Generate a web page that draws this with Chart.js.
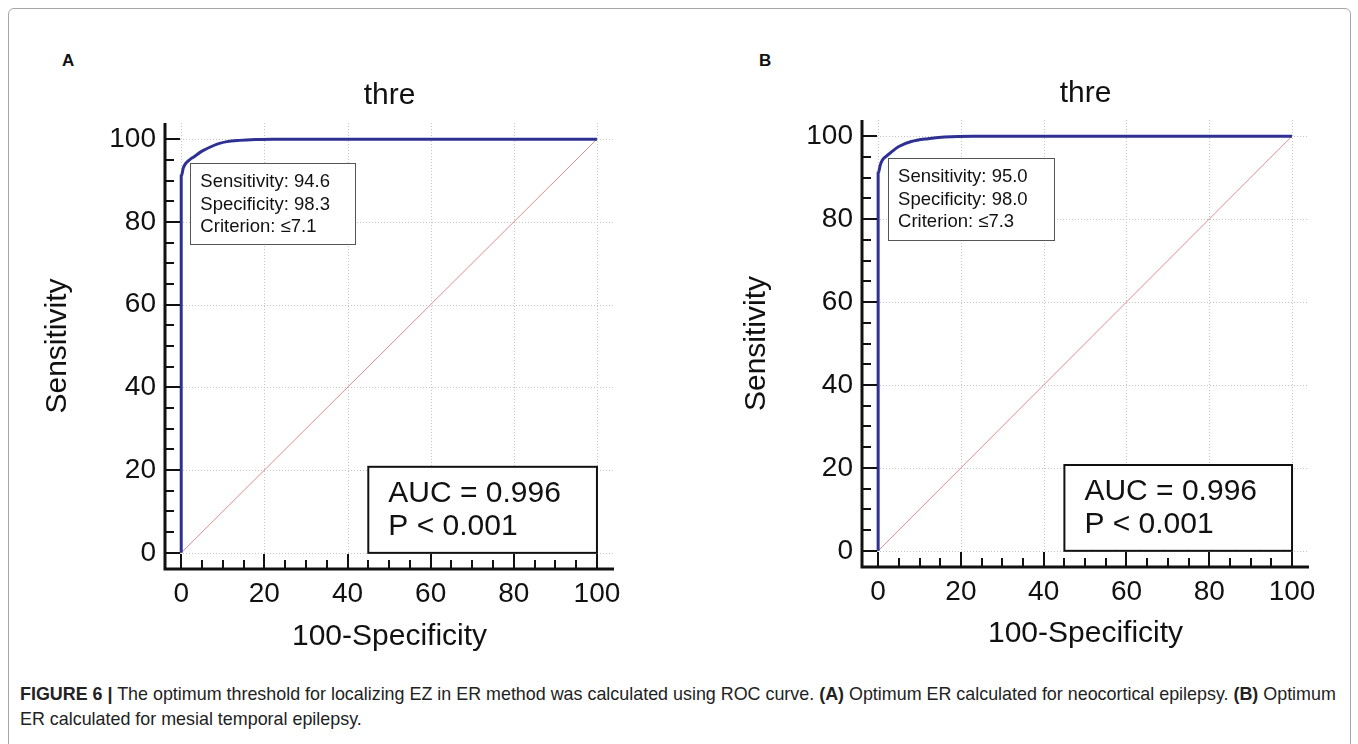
<!DOCTYPE html>
<html lang="en">
<head>
<meta charset="UTF-8">
<title>ROC curves - ER threshold</title>
<script src="https://cdn.jsdelivr.net/npm/chart.js@4"></script>
<style>
  body { margin: 0; width: 1358px; height: 744px; background: #fff; position: relative; overflow: hidden;
         font-family: "Liberation Sans", Arial, sans-serif; }
  .frame { position: absolute; left: 8px; top: 8px; width: 1343px; height: 760px;
           border: 1px solid #a6a6a6; border-radius: 6px; box-sizing: border-box; }
  canvas { position: absolute; top: 0; }
  #rocA { left: 0; }
  #rocB { left: 697px; }
  .tag { position: absolute; top: 51px; font-weight: bold; font-size: 17px; color: #111; }
  .caption { position: absolute; left: 20px; top: 682px; font-size: 17.9px; line-height: 25px; color: #222; white-space: nowrap; }
</style>
</head>
<body>
  <div class="frame"></div>
  <div class="tag" style="left:62px">A</div>
  <div class="tag" style="left:759px">B</div>
  <canvas id="rocA" width="690" height="680"></canvas>
  <canvas id="rocB" width="661" height="680"></canvas>
  <div class="caption"><b>FIGURE 6 |</b> The optimum threshold for localizing EZ in ER method was calculated using ROC curve. <b>(A)</b> Optimum ER calculated for neocortical epilepsy. <b>(B)</b> Optimum<br>ER calculated for mesial temporal epilepsy.</div>

<script>
// --- data ---
const fprA  = [0, 0, 0.5, 1, 2, 3, 5, 7, 9, 11, 14, 18, 22, 100];
const sensA = [0, 91, 93, 94, 95, 95.7, 97.1, 98.1, 98.9, 99.4, 99.7, 99.9, 100, 100];
const fprB  = [0, 0, 0.5, 1, 2, 3, 5, 8, 12, 16, 23, 100];
const sensB = [0, 91, 93, 94.2, 95.2, 96, 97.5, 98.7, 99.4, 99.8, 100, 100];
const refX = [0, 100];
const refY = [0, 100];
const xTicks = [0, 20, 40, 60, 80, 100];
const yTicks = [0, 20, 40, 60, 80, 100];
const minorTicks = [0, 5, 10, 15, 20, 25, 30, 35, 40, 45, 50, 55, 60, 65, 70, 75, 80, 85, 90, 95, 100];
const statsA = ['Sensitivity: 94.6', 'Specificity: 98.3', 'Criterion: \u22647.1'];
const statsB = ['Sensitivity: 95.0', 'Specificity: 98.0', 'Criterion: \u22647.3'];
const aucText = ['AUC = 0.996', 'P < 0.001'];

const FONT = '"Liberation Sans", Arial, sans-serif';
const toPts = (xs, ys) => xs.map((v, i) => ({ x: v, y: ys[i] }));

// axis lines, inward ticks, dotted grid and the two text boxes
const rocDecor = {
  id: 'rocDecor',
  beforeDatasetsDraw(chart) {
    const { ctx, chartArea: a, scales: { x, y } } = chart;
    ctx.save();
    ctx.strokeStyle = '#c4c4c4';
    ctx.lineWidth = 1;
    ctx.setLineDash([1, 2]);
    ctx.beginPath();
    xTicks.forEach(v => {
      const p = Math.round(x.getPixelForValue(v)) + 0.5;
      ctx.moveTo(p, a.top); ctx.lineTo(p, a.bottom);
    });
    yTicks.forEach(v => {
      const p = Math.round(y.getPixelForValue(v)) + 0.5;
      ctx.moveTo(a.left, p); ctx.lineTo(a.right, p);
    });
    ctx.stroke();
    ctx.restore();
  },
  afterDatasetsDraw(chart, args, opts) {
    const { ctx, chartArea: a, scales: { x, y } } = chart;
    ctx.save();
    // ticks pointing into the plot
    ctx.strokeStyle = '#111';
    ctx.lineWidth = 2;
    ctx.beginPath();
    minorTicks.forEach(v => {
      const len = xTicks.includes(v) ? 15 : 9;
      const px = Math.round(x.getPixelForValue(v));
      ctx.moveTo(px, a.bottom); ctx.lineTo(px, a.bottom - len);
      const py = Math.round(y.getPixelForValue(v));
      ctx.moveTo(a.left, py); ctx.lineTo(a.left + len, py);
    });
    ctx.stroke();
    // axis lines
    ctx.lineWidth = 3;
    ctx.beginPath();
    ctx.moveTo(a.left, a.top); ctx.lineTo(a.left, a.bottom); ctx.lineTo(a.right, a.bottom);
    ctx.stroke();

    // statistics box near the curve corner
    const s = opts.statsBox;
    const sx1 = x.getPixelForValue(s[0]), sy1 = y.getPixelForValue(s[1]);
    const sx2 = x.getPixelForValue(s[2]), sy2 = y.getPixelForValue(s[3]);
    ctx.fillStyle = '#fff';
    ctx.fillRect(sx1, sy1, sx2 - sx1, sy2 - sy1);
    ctx.strokeStyle = '#555';
    ctx.lineWidth = 1;
    ctx.strokeRect(Math.round(sx1) + 0.5, Math.round(sy1) + 0.5, Math.round(sx2 - sx1), Math.round(sy2 - sy1));
    ctx.fillStyle = '#111';
    ctx.font = '18.5px ' + FONT;
    ctx.textBaseline = 'middle';
    ctx.textAlign = 'left';
    opts.stats.forEach((t, i) => ctx.fillText(t, sx1 + 10, sy1 + 19 + i * 22.5));

    // AUC box
    const b = opts.aucBox;
    const bx1 = x.getPixelForValue(b[0]), by1 = y.getPixelForValue(b[1]);
    const bx2 = x.getPixelForValue(b[2]), by2 = y.getPixelForValue(b[3]);
    ctx.fillStyle = '#fff';
    ctx.fillRect(bx1, by1, bx2 - bx1, by2 - by1);
    ctx.strokeStyle = '#111';
    ctx.lineWidth = 2;
    ctx.strokeRect(bx1, by1, bx2 - bx1, by2 - by1);
    ctx.fillStyle = '#111';
    ctx.font = '30px ' + FONT;
    aucText.forEach((t, i) => ctx.fillText(t, bx1 + 20, by1 + 27 + i * 33));
    ctx.restore();
  }
};

function makeRoc(id, fpr, sens, o) {
  return new Chart(document.getElementById(id), {
    type: 'scatter',
    data: {
      datasets: [
        { data: toPts(fpr, sens), showLine: true, borderColor: '#2e3192', borderWidth: 3,
          pointRadius: 0, cubicInterpolationMode: 'monotone' },
        { data: toPts(refX, refY), showLine: true, borderColor: '#e08c8c', borderWidth: 1, pointRadius: 0 }
      ]
    },
    options: {
      responsive: false,
      animation: false,
      events: [],
      layout: { padding: { right: o.padRight } },
      plugins: {
        legend: { display: false },
        tooltip: { enabled: false },
        title: { display: true, fullSize: false, text: 'thre', color: '#111',
                 font: { family: FONT, size: 30, weight: 'normal', lineHeight: 1.2 },
                 padding: { top: o.titleTop, bottom: o.titleBottom } },
        rocDecor: { stats: o.stats, statsBox: o.statsBox, aucBox: o.aucBox }
      },
      scales: {
        x: {
          type: 'linear', min: -3.9, max: 104.1,
          afterBuildTicks: sc => { sc.ticks = xTicks.map(v => ({ value: v })); },
          afterFit: sc => { sc.height = o.xHeight; },
          grid: { display: false, drawTicks: false }, border: { display: false },
          ticks: { color: '#111', padding: 8.2, maxRotation: 0, font: { family: FONT, size: 28, lineHeight: 1.2 } },
          title: { display: true, text: '100-Specificity', color: '#111',
                   font: { family: FONT, size: 30, lineHeight: 1.2 }, padding: { top: 0, bottom: o.xTitlePad } }
        },
        y: {
          type: 'linear', min: -3.9, max: 103.9,
          afterBuildTicks: sc => { sc.ticks = yTicks.map(v => ({ value: v })); },
          afterFit: sc => { sc.width = 165; },
          grid: { display: false, drawTicks: false }, border: { display: false },
          ticks: { color: '#111', padding: 9, font: { family: FONT, size: 28, lineHeight: 1.2 } },
          title: { display: true, text: 'Sensitivity', color: '#111',
                   font: { family: FONT, size: 30, lineHeight: 1.2 }, padding: { top: o.yTitlePad, bottom: 0 } }
        }
      }
    },
    plugins: [rocDecor]
  });
}

makeRoc('rocA', fprA, sensA, {
  padRight: 76, titleTop: 78, titleBottom: 9, xHeight: 111, xTitlePad: 25, yTitlePad: 40,
  stats: statsA, statsBox: [2.2, 94.2, 41.8, 74.6], aucBox: [45, 20.8, 100, 0]
});
makeRoc('rocB', fprB, sensB, {
  padRight: 49, titleTop: 76, titleBottom: 8, xHeight: 113, xTitlePad: 28, yTitlePad: 42,
  stats: statsB, statsBox: [2.4, 94.7, 42.4, 74.9], aucBox: [45, 20.7, 100, 0]
});
</script>
</body>
</html>
